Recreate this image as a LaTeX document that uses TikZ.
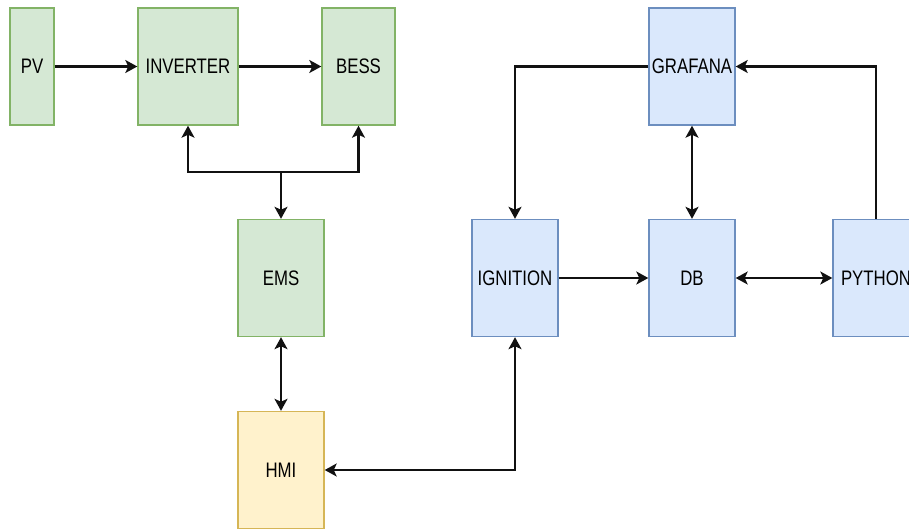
\documentclass[tikz,border=0pt]{standalone}
\usepackage{fontspec}
\setmainfont{Liberation Sans}[FakeStretch=0.8]
\usetikzlibrary{arrows.meta}
\definecolor{greenfill}{HTML}{D5E8D4}
\definecolor{greenline}{HTML}{82B366}
\definecolor{bluefill}{HTML}{DAE8FC}
\definecolor{blueline}{HTML}{6C8EBF}
\definecolor{yellowfill}{HTML}{FFF2CC}
\definecolor{yellowline}{HTML}{D6B656}
\definecolor{wire}{HTML}{111111}
\tikzset{Head/.tip = {Stealth[length=12pt, width=13pt, inset=3pt]}}

\begin{document}
\begin{tikzpicture}[x=1pt, y=-1pt]
  \tikzstyle{every node} = [font = \fontsize{21}{25}\selectfont,
                            minimum height = 117pt,
                            minimum width = 86pt,
                            inner sep = 0pt,
                            line width = 1.4pt,
                            text = black]
  \tikzstyle{GreenBox}  = [draw = greenline, fill = greenfill]
  \tikzstyle{BlueBox}   = [draw = blueline, fill = bluefill]
  \tikzstyle{YellowBox} = [draw = yellowline, fill = yellowfill]
  \tikzstyle{Wire}      = [draw = wire, line width = 2.2pt]
\useasboundingbox (0,0) rectangle (909,528);

% power side
\node[GreenBox, minimum width = 44pt]  (PV)       at (32,66.5)    {PV};
\node[GreenBox, minimum width = 100pt] (INVERTER) at (188,66.5)   {INVERTER};
\node[GreenBox, minimum width = 73pt]  (BESS)     at (358.5,66.5) {BESS};
\node[GreenBox]                        (EMS)      at (281,278)    {EMS};
\node[YellowBox]                       (HMI)      at (281,470)    {HMI};

% data side
\node[BlueBox] (IGNITION) at (515,278)  {IGNITION};
\node[BlueBox] (GRAFANA)  at (692,66.5) {GRAFANA};
\node[BlueBox] (DB)       at (692,278)  {DB};
\node[BlueBox] (PYTHON)   at (876,278)  {PYTHON};

\coordinate (Split) at (281,172);

\draw[Wire, -Head] (PV) -- (INVERTER);
\draw[Wire, -Head] (INVERTER) -- (BESS);
\draw[Wire, -Head] (Split) -| (INVERTER.south);
\draw[Wire, -Head] (Split) -| (BESS.south);
\draw[Wire, -Head] (Split) -- (EMS.north);
\draw[Wire, Head-Head] (EMS) -- (HMI);
\draw[Wire, Head-Head] (IGNITION.south) |- (HMI.east);

\draw[Wire, -Head] (IGNITION) -- (DB);
\draw[Wire, Head-Head] (DB) -- (PYTHON);
\draw[Wire, Head-Head] (GRAFANA) -- (DB);
\draw[Wire, -Head] (GRAFANA.west) -| (IGNITION.north);
\draw[Wire, -Head] (PYTHON.north) |- (GRAFANA.east);

\end{tikzpicture}
\end{document}
